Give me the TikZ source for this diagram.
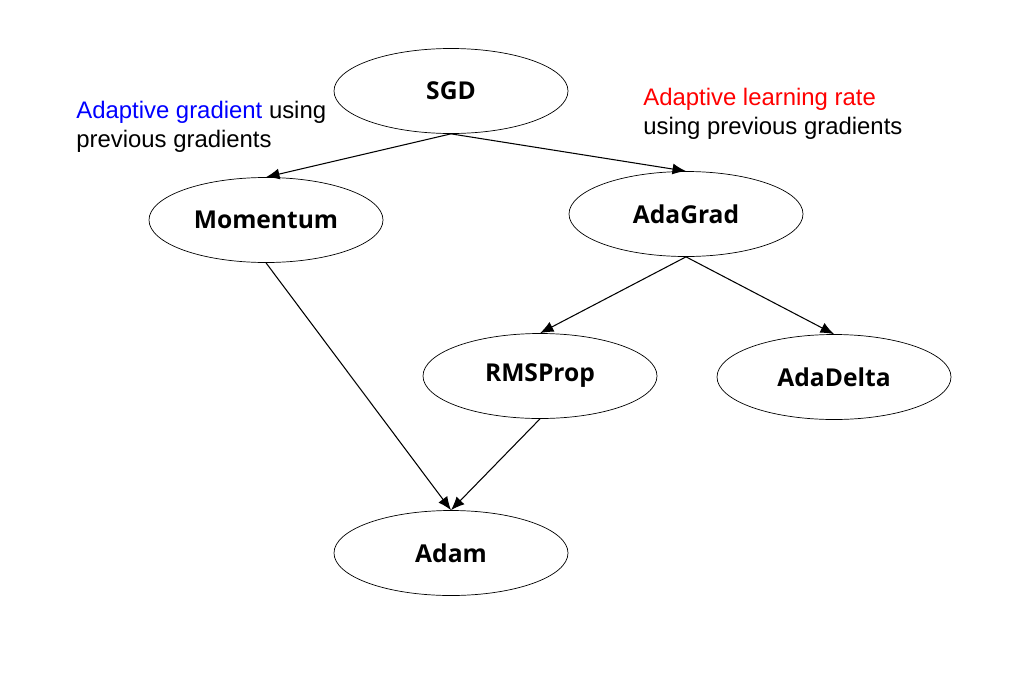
\documentclass[tikz,border=0pt]{standalone}
\usepackage{fontspec}
\setmainfont{Liberation Sans}
\newfontfamily\algfont{Open Sans}
\usepackage{tikz}
\usetikzlibrary{arrows.meta,shapes.geometric}

\begin{document}
\begin{tikzpicture}[>=Latex,
  algo/.style={draw=black,ellipse,minimum width=4.68cm,minimum height=1.7cm,inner sep=0pt,font=\algfont\bfseries\fontsize{14}{16}\selectfont},
  note/.style={anchor=north west,inner sep=0pt,align=left,font=\fontsize{13.6}{16.5}\selectfont},
  link/.style={-{Latex[length=2.7mm,width=2.2mm]},line width=0.6pt}]
\useasboundingbox (0,0) rectangle (20.42,-13.48);
\node[algo] (sgd) at (9.02,-1.82) {SGD};
\node[algo] (mom) at (5.32,-4.4) {Momentum};
\node[algo] (adagrad) at (13.72,-4.28) {AdaGrad};
\node[algo] (rms) at (10.8,-7.52) {RMSProp};
\node[algo] (adadelta) at (16.68,-7.54) {AdaDelta};
\node[algo] (adam) at (9.02,-11.06) {Adam};
% notes
\node[note] (gradnote) at (1.52,-2.02) {\textcolor{blue}{Adaptive gradient} using\\previous gradients};
\node[note] (lrnote) at (12.86,-1.76) {\textcolor{red}{Adaptive learning rate}\\using previous gradients};
% links
\draw[link] (sgd.south)--(mom.north);
\draw[link] (sgd.south)--(adagrad.north);
\draw[link] (adagrad.south)--(rms.north);
\draw[link] (adagrad.south)--(adadelta.north);
\draw[link] (mom.south)--(adam.north);
\draw[link] (rms.south)--(adam.north);
\end{tikzpicture}
\end{document}
